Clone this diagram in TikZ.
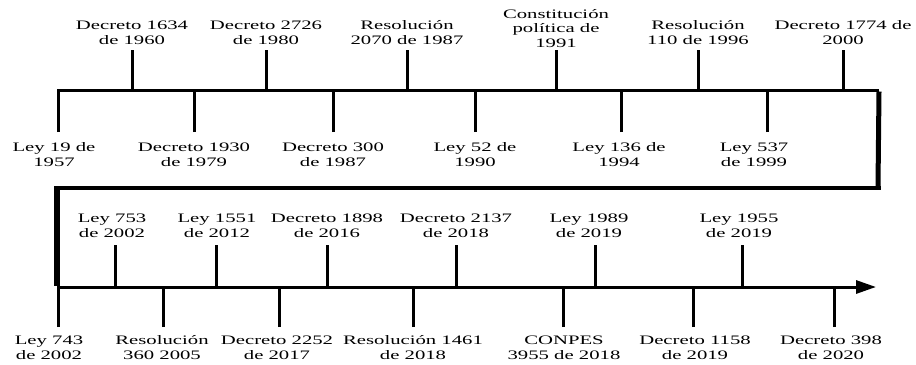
\documentclass[tikz,border=0pt]{standalone}
\usepackage{fontspec}
\setmainfont{Liberation Serif}[FakeStretch=1.6]
\usetikzlibrary{arrows.meta}
\begin{document}
\begin{tikzpicture}[x=1bp,y=-1bp,
  axis/.style={line width=3bp},
  tick/.style={line width=3bp},
  lbl/.style={align=center,inner sep=0pt,font=\fontsize{13}{15}\selectfont}]
\useasboundingbox (0,0) rectangle (916,364);
% frame coordinates
\coordinate (A) at (57,90);
\coordinate (B) at (879,90);
\coordinate (C) at (878,188);
\coordinate (D) at (57,188);
\coordinate (E) at (57,287);
\coordinate (F) at (876,287);
% first timeline and return loop
\draw[axis] (A) -- (B);
\draw[line width=5bp] ([yshift=-1.5]B) -- ([yshift=2]C);
\draw[line width=4bp] ([xshift=-3]D) -- ([xshift=3]C);
\draw[line width=6bp] ([yshift=-2]D) -- ([yshift=1.5]E);
\draw[axis,-{Triangle[length=20bp,width=13bp]}] (E) -- (F);
% first timeline, labels above
\foreach \x/\lab [count=\i] in {
  132/{Decreto 1634\\de 1960},
  266/{Decreto 2726\\de 1980},
  407/{Resolución\\2070 de 1987},
  698/{Resolución\\110 de 1996},
  843/{Decreto 1774 de\\2000}}{
  \node[lbl] (ua\i) at (\x,32.5) {\lab};
  \coordinate (kua\i) at (\x,50);
  \draw[tick] (kua\i) -- (kua\i |- A);
}
\node[lbl] (cp) at (556,28.5) {Constitución\\política de\\1991};
\coordinate (kcp) at (556,50);
\draw[tick] (kcp) -- (kcp |- A);
% first timeline, labels below
\foreach \x/\lx/\lab [count=\i] in {
  58/54/{Ley 19 de\\1957},
  194/194/{Decreto 1930\\de 1979},
  333/333/{Decreto 300\\de 1987},
  475/475/{Ley 52 de\\1990},
  621/619/{Ley 136 de\\1994},
  767/754/{Ley 537\\de 1999}}{
  \node[lbl] (da\i) at (\lx,154.5) {\lab};
  \coordinate (kda\i) at (\x,132);
  \draw[tick] (kda\i) -- (kda\i |- A);
}
% second timeline, labels above
\foreach \x/\lx/\lab [count=\i] in {
  115/112/{Ley 753\\de 2002},
  216/217/{Ley 1551\\de 2012},
  327/327/{Decreto 1898\\de 2016},
  456/456/{Decreto 2137\\de 2018},
  595/589/{Ley 1989\\de 2019},
  742/739/{Ley 1955\\de 2019}}{
  \node[lbl] (ub\i) at (\lx,225.5) {\lab};
  \coordinate (kub\i) at (\x,245);
  \draw[tick] (kub\i) -- (kub\i |- E);
}
% second timeline, labels below
\foreach \x/\lx/\lab [count=\i] in {
  58/49/{Ley 743\\de 2002},
  163/162/{Resolución\\360 2005},
  279/277/{Decreto 2252\\de 2017},
  413/413/{Resolución 1461\\de 2018},
  563/564/{CONPES\\3955 de 2018},
  693/695/{Decreto 1158\\de 2019},
  834/831/{Decreto 398\\de 2020}}{
  \node[lbl] (db\i) at (\lx,347.5) {\lab};
  \coordinate (kdb\i) at (\x,327);
  \draw[tick] (kdb\i) -- (kdb\i |- E);
}
\end{tikzpicture}
\end{document}
